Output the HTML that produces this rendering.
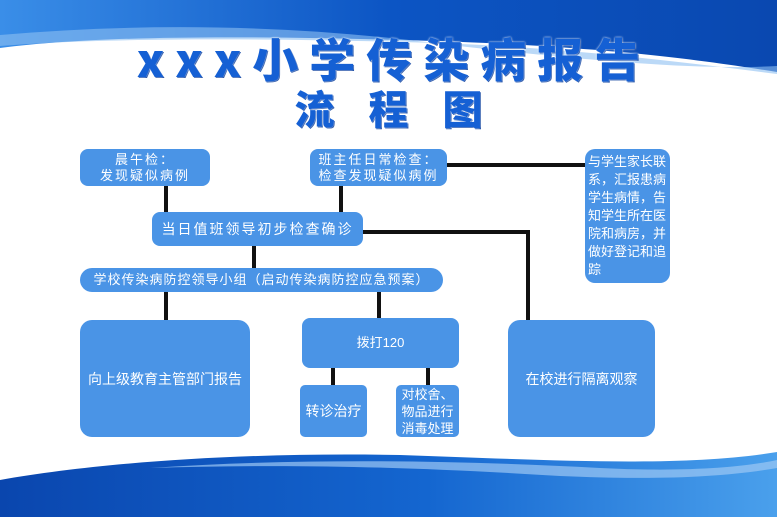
<!DOCTYPE html>
<html><head><meta charset="utf-8"><style>
*{margin:0;padding:0;box-sizing:border-box}
body{width:777px;height:517px;overflow:hidden;background:#fff;position:relative;font-family:"Liberation Sans","Noto Sans CJK SC",sans-serif}
.b{position:absolute;background:#4a94e6;color:#fff;display:flex;align-items:center;justify-content:center;text-align:center;font-size:13px;line-height:16px;border-radius:8px}
.l{position:absolute;background:#111}
.t{position:absolute;left:0;width:777px;text-align:center;color:#1560d4;font-weight:900;font-family:"Noto Sans CJK SC",sans-serif;text-shadow:0 0 2px #fff,1px 1px 0 #0b3f9e}
</style></head><body>
<svg width="777" height="517" style="position:absolute;left:0;top:0">
<defs>
<linearGradient id="g1" x1="0" x2="1"><stop offset="0" stop-color="#3a8ee8"/><stop offset=".5" stop-color="#0c55c4"/><stop offset="1" stop-color="#0a48b0"/></linearGradient>
<linearGradient id="g2" x1="0" x2="1"><stop offset="0" stop-color="#0a46ae"/><stop offset=".55" stop-color="#1466d0"/><stop offset="1" stop-color="#4aa0ec"/></linearGradient>
</defs>
<path d="M0 0H777V72C700 60 600 45 400 40C250 36 100 35 0 48Z" fill="url(#g1)"/>
<path d="M0 35C150 22 300 25 450 45C600 62 700 70 777 66V74C680 62 550 45 400 42C250 38 100 38 0 46Z" fill="#8ec0f2" opacity=".6"/>
<path d="M0 480C100 462 250 452 400 455C550 460 680 468 777 452V517H0Z" fill="url(#g2)"/>
<path d="M150 468C300 458 450 460 600 468C680 472 740 468 777 460V468C720 478 650 480 560 476C400 466 280 464 150 468Z" fill="#9cc8f3" opacity=".7"/>
</svg>
<div class="t" style="top:30px;font-size:46px;line-height:56px;letter-spacing:11px;padding-left:11px">xxx小学传染病报告</div>
<div class="t" style="top:84px;font-size:40px;line-height:46px;letter-spacing:34px;padding-left:34px">流程图</div>

<div class="l" style="left:164px;top:185px;width:4px;height:28px"></div>
<div class="l" style="left:339px;top:185px;width:4px;height:28px"></div>
<div class="l" style="left:447px;top:163px;width:140px;height:4px"></div>
<div class="l" style="left:360px;top:230px;width:170px;height:4px"></div>
<div class="l" style="left:526px;top:230px;width:4px;height:92px"></div>
<div class="l" style="left:252px;top:245px;width:4px;height:24px"></div>
<div class="l" style="left:164px;top:291px;width:4px;height:30px"></div>
<div class="l" style="left:377px;top:291px;width:4px;height:28px"></div>
<div class="l" style="left:331px;top:367px;width:4px;height:19px"></div>
<div class="l" style="left:426px;top:367px;width:4px;height:19px"></div>

<div class="b" style="left:80px;top:149px;width:130px;height:37px;letter-spacing:2px">晨午检：<br>发现疑似病例</div>
<div class="b" style="left:310px;top:149px;width:137px;height:37px;letter-spacing:2px">班主任日常检查：<br>检查发现疑似病例</div>
<div class="b" style="left:585px;top:149px;width:85px;height:134px;justify-content:flex-start;align-items:flex-start;text-align:left;padding:4px 3px;font-size:13px;line-height:18px;border-radius:10px">与学生家长联系，汇报患病学生病情，告知学生所在医院和病房，并做好登记和追踪</div>
<div class="b" style="left:152px;top:212px;width:211px;height:34px;letter-spacing:2px;font-size:14px">当日值班领导初步检查确诊</div>
<div class="b" style="left:80px;top:268px;width:363px;height:24px;border-radius:12px;letter-spacing:1px">学校传染病防控领导小组（启动传染病防控应急预案）</div>
<div class="b" style="left:80px;top:320px;width:170px;height:117px;border-radius:12px;font-size:14px">向上级教育主管部门报告</div>
<div class="b" style="left:302px;top:318px;width:157px;height:50px">拨打120</div>
<div class="b" style="left:300px;top:385px;width:67px;height:52px;border-radius:5px;font-size:14px">转诊治疗</div>
<div class="b" style="left:396px;top:385px;width:63px;height:52px;border-radius:5px;line-height:17px">对校舍、<br>物品进行<br>消毒处理</div>
<div class="b" style="left:508px;top:320px;width:147px;height:117px;border-radius:12px;font-size:14px">在校进行隔离观察</div>
</body></html>
